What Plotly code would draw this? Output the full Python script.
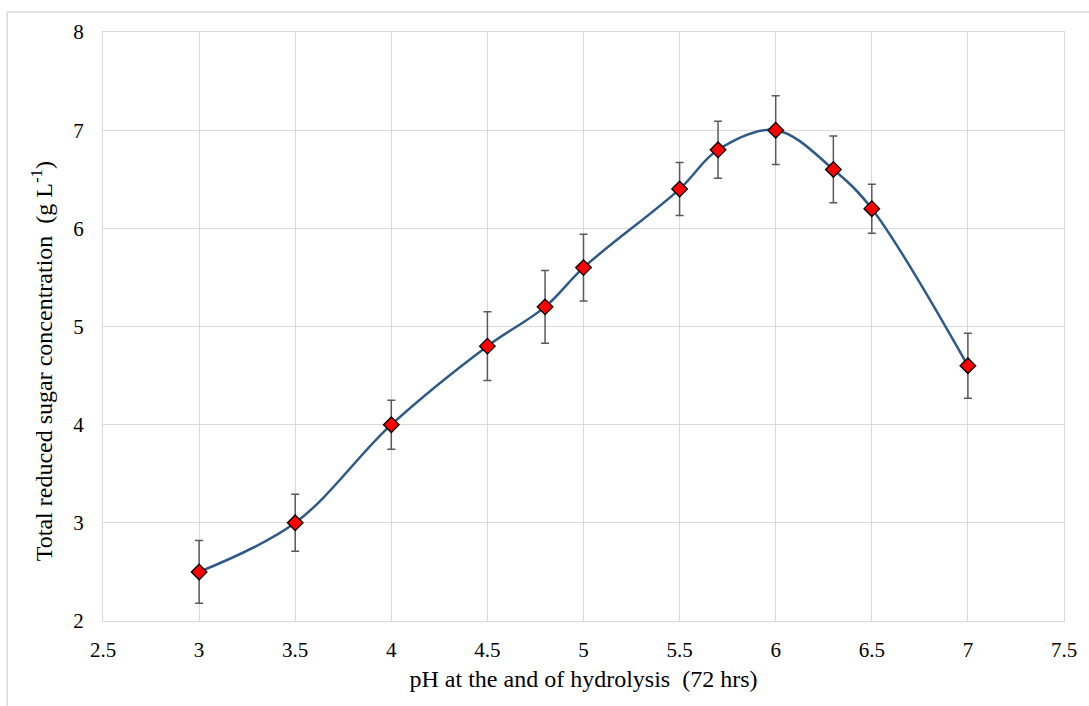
import plotly.graph_objects as go

ph = [3, 3.5, 4, 4.5, 4.8, 5, 5.5, 5.7, 6, 6.3, 6.5, 7]
sugar = [2.5, 3.0, 4.0, 4.8, 5.2, 5.6, 6.4, 6.8, 7.0, 6.6, 6.2, 4.6]
err = [0.32, 0.29, 0.25, 0.35, 0.37, 0.34, 0.27, 0.29, 0.35, 0.34, 0.25, 0.33]

x_ticks = [2.5, 3, 3.5, 4, 4.5, 5, 5.5, 6, 6.5, 7, 7.5]
y_ticks = [2, 3, 4, 5, 6, 7, 8]

x_title = "pH at the and of hydrolysis\u00a0 (72 hrs)"
y_title = "Total reduced sugar concentration\u00a0 (g L<sup>-1</sup>)"

W, H = 1089, 706
L, R, T, B = 103, 22, 32, 85

fig = go.Figure()
fig.add_trace(go.Scatter(
    x=ph, y=sugar,
    mode="lines+markers",
    line=dict(color="#2E5A88", width=2.5, shape="spline", smoothing=1.0),
    marker=dict(symbol="diamond", size=12, color="#FF0000",
                line=dict(color="#000000", width=1.3)),
    error_y=dict(type="data", array=err, visible=True,
                 color="#595959", thickness=1.5, width=4),
    showlegend=False,
))

fam = "Liberation Serif, Times New Roman, serif"
tick_font = dict(family=fam, size=21, color="#000000")
title_font = dict(family=fam, size=24, color="#000000")

fig.update_layout(
    width=W, height=H,
    margin=dict(l=L, r=R, t=T, b=B),
    paper_bgcolor="white", plot_bgcolor="white",
    font=tick_font,
    xaxis=dict(range=[2.5, 7.5], tickvals=x_ticks, ticktext=[f"{v:g}" for v in x_ticks],
               tickfont=tick_font,
               showgrid=True, gridcolor="#d9d9d9", gridwidth=1.3,
               showline=True, linecolor="#d9d9d9", linewidth=1.3, mirror=True,
               zeroline=False, ticks="", ticklabelstandoff=10,
               title=dict(text=x_title, font=title_font, standoff=8)),
    yaxis=dict(range=[2, 8], tickvals=y_ticks, ticktext=[str(v) for v in y_ticks],
               tickfont=tick_font,
               showgrid=True, gridcolor="#d9d9d9", gridwidth=1.3,
               showline=True, linecolor="#d9d9d9", linewidth=1.3, mirror=True,
               zeroline=False, ticks="", ticklabelstandoff=14),
)

pw = W - L - R
ph_ = H - T - B

fig.add_annotation(text=y_title, textangle=-90, font=title_font, showarrow=False,
                   xref="paper", yref="paper",
                   x=(42 - L) / pw, y=(H - B - 361) / ph_,
                   xanchor="center", yanchor="middle")

fig.add_shape(type="rect", xref="paper", yref="paper",
              x0=(7 - L) / pw, x1=(W + 20 - L) / pw,
              y0=-(H + 20 - T - ph_) / ph_, y1=1 + (T - 12) / ph_,
              line=dict(color="#d9d9d9", width=1.5), fillcolor="rgba(0,0,0,0)", layer="below")

fig.write_html("out.html")
